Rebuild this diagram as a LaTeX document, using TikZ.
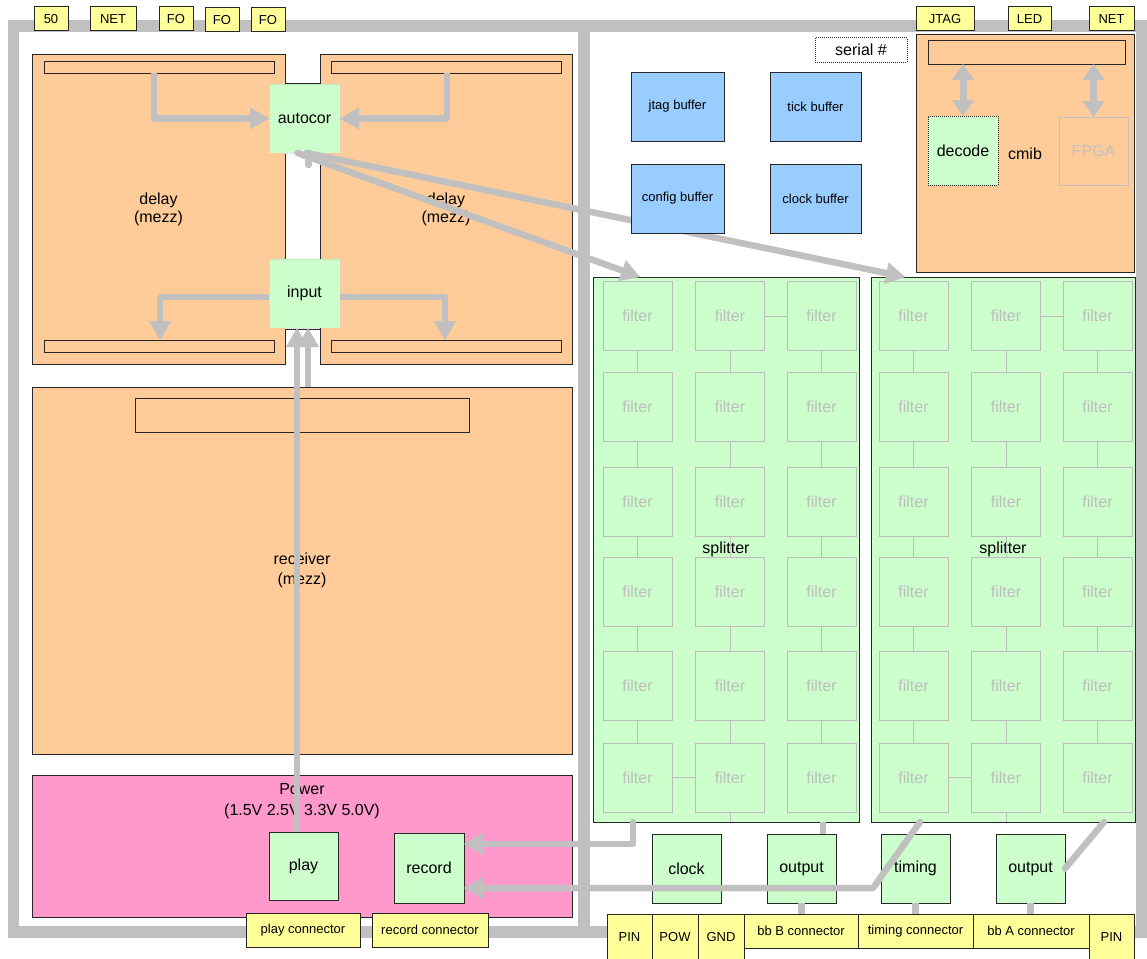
\documentclass[tikz,border=0pt]{standalone}
\usepackage{fontspec}
\setmainfont{Liberation Sans}
\usetikzlibrary{arrows.meta}
\definecolor{orangeC}{HTML}{FFCC99}
\definecolor{greenC}{HTML}{CCFFCC}
\definecolor{blueC}{HTML}{99CCFF}
\definecolor{pinkC}{HTML}{FF99CC}
\definecolor{yellowC}{HTML}{FFFF99}
\definecolor{grayC}{HTML}{C0C0C0}
\definecolor{filtC}{HTML}{BDBDBD}
\definecolor{edgeC}{HTML}{262626}
\newcommand{\mybox}[6]{\node[#1, minimum width={(#4)-(#2)}, minimum height={(#5)-(#3)}] (#6) at ({((#2)+(#4))/2},{((#3)+(#5))/2})}
\tikzset{
  bx/.style={draw=edgeC, line width=1pt, inner sep=0pt, outer sep=0pt, align=center, font=\fontsize{16}{19}\selectfont, text=black},
  orbox/.style={bx, fill=orangeC},
  grbox/.style={bx, fill=greenC},
  blbox/.style={bx, fill=blueC, font=\fontsize{13}{15}\selectfont},
  ylbox/.style={bx, fill=yellowC, font=\fontsize{13}{15}\selectfont},
  pkbox/.style={bx, fill=pinkC},
  filt/.style={draw=filtC, fill=greenC, text=filtC, line width=1pt, inner sep=0pt, minimum width=69pt, minimum height=69pt, font=\fontsize{16}{19}\selectfont},
  fline/.style={draw=filtC, line width=1pt},
  garrow/.style={draw=grayC, line width=6.5pt, line join=round, -{Triangle[length=19pt,width=22pt,line width=0.5pt]}},
  gdarrow/.style={draw=grayC, line width=7pt, {Triangle[length=16pt,width=22pt,line width=0.5pt]}-{Triangle[length=16pt,width=22pt,line width=0.5pt]}},
  gline/.style={draw=grayC, line width=6.5pt, line cap=round, line join=round},
  frame/.style={draw=grayC, line width=11.5pt},
  lbl/.style={inner sep=0pt, align=center, font=\fontsize{16}{21}\selectfont},
}
\begin{document}
\begin{tikzpicture}[x=1pt,y=-1pt]
\useasboundingbox (0,0) rectangle (1147,958);
% board frames
\draw[frame] (13.5,26) rectangle (584,932);
\draw[frame] (584,26) rectangle (1141.5,932);
% left board
\mybox{orbox, font=\fontsize{16}{18}\selectfont}{32}{55}{285}{364}{delayL}{delay\\(mezz)};
\mybox{orbox, font=\fontsize{16}{18}\selectfont}{320}{55}{572}{364}{delayR}{delay\\(mezz)};
\mybox{bx, fill=white}{285}{83}{320}{329}{chan}{};
\mybox{orbox}{44}{61}{274}{73}{barTL}{};
\mybox{orbox}{331}{61}{561}{73}{barTR}{};
\mybox{orbox}{44}{340}{274}{352}{barBL}{};
\mybox{orbox}{331}{340}{561}{352}{barBR}{};
\mybox{grbox, draw=white!80!black, densely dotted}{269}{84}{340}{153}{autocor}{autocor};
\mybox{grbox, draw=white!80!black, densely dotted}{269}{259}{340}{328}{input}{input};
\mybox{orbox, font=\fontsize{16}{20}\selectfont}{32}{387}{572}{754}{receiver}{receiver\\(mezz)};
\mybox{orbox}{135}{398}{469}{432}{recbar}{};
\mybox{pkbox}{32}{775}{572}{917}{power}{};
\node[lbl] (powerlbl) at (302,801.5) {Power\\(1.5V 2.5V 3.3V 5.0V)};
\mybox{grbox}{269}{832}{338}{900}{play}{play};
\mybox{grbox}{394}{833}{464}{903}{record}{record};
% right board: cmib
\mybox{orbox}{916}{35}{1134}{272}{cmib}{cmib};
\mybox{orbox}{928}{41}{1125}{64}{cmibbar}{};
\mybox{grbox, densely dotted}{928}{116}{998}{185}{decode}{decode};
\mybox{bx, draw=grayC, text=grayC}{1059}{117}{1128}{185}{fpga}{FPGA};
% splitters
\mybox{grbox}{593}{277}{859}{822}{split1}{splitter};
\mybox{grbox}{871}{277}{1135}{822}{split2}{splitter};
\foreach \s/\ca/\cb/\cc in {1/637.5/730/821.5, 2/913.5/1006/1097.5}{
  \foreach \r/\y in {1/316,2/407,3/501.5,4/592,5/686,6/777.5}{
    \node[filt] (f\s-\r-1) at (\ca,\y) {filter};
    \node[filt] (f\s-\r-2) at (\cb,\y) {filter};
    \node[filt] (f\s-\r-3) at (\cc,\y) {filter};
  }
}
\foreach \s in {1,2}{
  \foreach \r in {1,...,5}{
    \pgfmathtruncatemacro{\rnext}{\r+1}
    \foreach \c in {1,2,3}{
      \draw[fline] (f\s-\r-\c.south) -- (f\s-\rnext-\c.north);
    }
  }
  \draw[fline] (f\s-1-2.east) -- (f\s-1-3.west);
  \draw[fline] (f\s-6-1.east) -- (f\s-6-2.west);
  \draw[fline] (f\s-6-2.south) -- (f\s-6-2.south |- split\s.south);
}
% bottom row boxes
\mybox{grbox}{652}{834}{721}{903}{clock}{clock};
\mybox{grbox}{767}{834}{836}{903}{output1}{output};
\mybox{grbox}{881}{834}{950}{903}{timing}{timing};
\mybox{grbox}{996}{834}{1065}{903}{output2}{output};
% gray connectors
\draw[garrow] (barTL.south -| 154,0) |- (autocor.west);
\draw[garrow] (barTR.south -| 447,0) |- (autocor.east);
\draw[garrow] ([yshift=-3.5pt]input.west) -| (barBL.north -| 160,0);
\draw[garrow] ([yshift=-3.5pt]input.east) -| (barBR.north -| 445,0);
\draw[garrow] (play.north -| 297,0) -- (input.south -| 297,0);
\draw[garrow] (receiver.north -| 308,0) -- (input.south -| 308,0);
\draw[garrow, line cap=round] ([xshift=-7pt]autocor.south) -- (split1.north -| 640,0);
\draw[garrow, line cap=round] ([xshift=2pt]autocor.south) -- (split2.north -| 905,0);
\draw[gline] ([xshift=4pt]autocor.south) -- ++(0,12);
\coordinate (j1) at (633,844);
\coordinate (j2) at (873,888);
\draw[garrow, line cap=round] (split1.south -| j1) -- (j1) -- (record.east |- j1);
\draw[garrow, line cap=round] (split2.south -| 920,0) -- (j2) -- (record.east |- j2);
\draw[gline] (split2.south -| 1104,0) -- (output2.east);
\draw[gline, line cap=butt] (split1.south -| 823,0) -- (output1.north -| 823,0);
\draw[gdarrow] (cmibbar.south -| decode.north) -- (decode.north);
\draw[gdarrow] (cmibbar.south -| fpga.north) -- (fpga.north);
% buffers and serial
\mybox{blbox}{631}{72}{724}{141}{jtagbuf}{jtag buffer};
\mybox{blbox}{770}{72}{861}{141}{tickbuf}{tick buffer};
\mybox{blbox}{631}{164}{724}{233}{configbuf}{config buffer};
\mybox{blbox}{770}{164}{861}{233}{clockbuf}{clock buffer};
\mybox{bx, fill=white, densely dotted}{815}{38}{907}{62}{serial}{serial \#};
% bottom connectors
\mybox{ylbox}{246}{913}{360}{947}{playc}{play connector};
\mybox{ylbox}{372}{913}{488}{947}{recordc}{record connector};
\mybox{ylbox}{744}{914}{858}{948}{bbB}{bb B connector};
\mybox{ylbox}{858}{914}{973}{948}{timingc}{timing connector};
\mybox{ylbox}{973}{914}{1089}{948}{bbA}{bb A connector};
\draw[gline, line cap=butt] (output1.south) -- (output1.south |- bbB.north);
\draw[gline, line cap=butt] (timing.south) -- (timing.south |- timingc.north);
\draw[gline, line cap=butt] (output2.south) -- (output2.south |- bbA.north);
\mybox{ylbox}{607}{914}{652}{960}{pin1}{PIN};
\mybox{ylbox}{652}{914}{698}{960}{pow}{POW};
\mybox{ylbox}{698}{914}{744}{960}{gnd}{GND};
\mybox{ylbox}{1089}{914}{1134}{960}{pin2}{PIN};
% top connectors
\mybox{ylbox}{34}{7}{68}{31}{c50}{50};
\mybox{ylbox}{90}{7}{136}{31}{cnet}{NET};
\mybox{ylbox}{159}{7}{193}{31}{cfo1}{FO};
\mybox{ylbox}{205}{8}{239}{32}{cfo2}{FO};
\mybox{ylbox}{251}{8}{285}{32}{cfo3}{FO};
\mybox{ylbox}{916}{7}{974}{31}{cjtag}{JTAG};
\mybox{ylbox}{1008}{7}{1051}{31}{cled}{LED};
\mybox{ylbox}{1089}{7}{1134}{31}{cnet2}{NET};
\end{tikzpicture}
\end{document}
